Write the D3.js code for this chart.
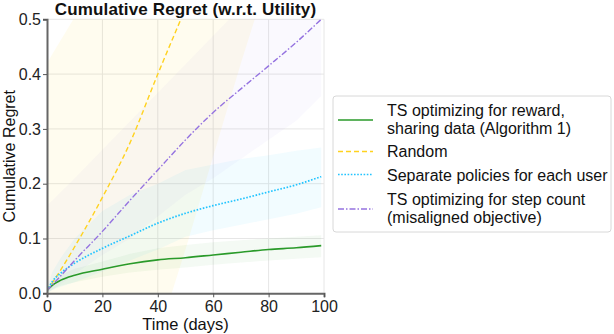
<!DOCTYPE html>
<html>
<head>
<meta charset="utf-8">
<script src="https://cdn.jsdelivr.net/npm/d3@7"></script>
<style>
  body { margin: 0; background: #fff; }
  svg { font-family: "Liberation Sans", Arial, sans-serif; }
</style>
</head>
<body>
<svg class="svg-canvas" width="614" height="334"></svg>
<script>
var days = [0, 2, 5, 10, 20, 30, 40, 50, 60, 70, 80, 90, 99];

// mean cumulative regret per method
var tsReward   = [0.005, 0.015, 0.024, 0.033, 0.044, 0.054, 0.061, 0.065, 0.070, 0.075, 0.080, 0.083, 0.087];
var randomPol  = [0.005, 0.020, 0.043, 0.085, 0.175, 0.275, 0.400, 0.520, 0.640, 0.760, 0.880, 1.000, 1.110];
var separate   = [0.005, 0.022, 0.037, 0.055, 0.082, 0.105, 0.128, 0.146, 0.160, 0.172, 0.185, 0.198, 0.213];
var tsStep     = [0.005, 0.016, 0.032, 0.060, 0.113, 0.170, 0.225, 0.280, 0.330, 0.373, 0.415, 0.458, 0.500];

// shaded bands (lower / upper)
var tsRewardLo = [0.000, 0.008, 0.014, 0.020, 0.030, 0.038, 0.043, 0.047, 0.052, 0.056, 0.060, 0.063, 0.066];
var tsRewardHi = [0.010, 0.022, 0.034, 0.045, 0.058, 0.072, 0.082, 0.088, 0.093, 0.097, 0.100, 0.103, 0.106];
var randomLo   = [-0.75, -0.72, -0.67, -0.58, -0.42, -0.25, -0.08, 0.08, 0.25, 0.42, 0.58, 0.75, 0.90];
var randomHi   = [0.420, 0.437, 0.462, 0.504, 0.588, 0.672, 0.756, 0.840, 0.924, 1.008, 1.092, 1.176, 1.252];
var separateLo = [0.000, 0.006, 0.012, 0.020, 0.040, 0.060, 0.080, 0.103, 0.115, 0.125, 0.135, 0.145, 0.157];
var separateHi = [0.010, 0.040, 0.065, 0.100, 0.150, 0.180, 0.200, 0.225, 0.235, 0.245, 0.252, 0.260, 0.266];
var tsStepLo   = [0.000, 0.006, 0.017, 0.035, 0.070, 0.100, 0.140, 0.180, 0.210, 0.245, 0.280, 0.315, 0.360];
var tsStepHi   = [0.160, 0.170, 0.185, 0.210, 0.262, 0.314, 0.366, 0.418, 0.470, 0.522, 0.574, 0.626, 0.672];

var xTicks = [0, 20, 40, 60, 80, 100];
var yTicks = [0.0, 0.1, 0.2, 0.3, 0.4, 0.5];

var legendLabels = [
  ["TS optimizing for reward,", "sharing data (Algorithm 1)"],
  ["Random"],
  ["Separate policies for each user"],
  ["TS optimizing for step count", "(misaligned objective)"]
];

var series = [
  { mean: tsReward, lo: tsRewardLo, hi: tsRewardHi, color: "#2a9a2a", dash: null, bandAlpha: 0.05, width: 1.6 },
  { mean: randomPol, lo: randomLo, hi: randomHi, color: "#ffd21f", dash: "5,3", bandAlpha: 0.07, width: 1.4 },
  { mean: separate, lo: separateLo, hi: separateHi, color: "#22c4ff", dash: "1.6,1.6", bandAlpha: 0.06, width: 1.7 },
  { mean: tsStep, lo: tsStepLo, hi: tsStepHi, color: "#9573e0", dash: "6,2,1.5,2", bandAlpha: 0.045, width: 1.4 }
];

var svg = d3.select(".svg-canvas");
var plotL = 47, plotR = 324, plotT = 19.3, plotB = 293.3;

var x = d3.scaleLinear().domain([0, 100]).range([plotL, plotR]);
var y = d3.scaleLinear().domain([0, 0.5]).range([plotB, plotT]);

svg.append("defs").append("clipPath").attr("id", "plotclip")
  .append("rect")
  .attr("x", plotL).attr("y", plotT)
  .attr("width", plotR - plotL).attr("height", plotB - plotT);

// grid
var grid = svg.append("g");
grid.selectAll("line.gx").data(xTicks.slice(1)).enter().append("line")
  .attr("x1", function(d) { return x(d); }).attr("x2", function(d) { return x(d); })
  .attr("y1", plotT).attr("y2", plotB)
  .attr("stroke", "#e6e6e6").attr("stroke-width", 1);
grid.selectAll("line.gy").data(yTicks.slice(1)).enter().append("line")
  .attr("x1", plotL).attr("x2", plotR)
  .attr("y1", function(d) { return y(d); }).attr("y2", function(d) { return y(d); })
  .attr("stroke", "#e6e6e6").attr("stroke-width", 1);

var plot = svg.append("g").attr("clip-path", "url(#plotclip)");

var area = d3.area()
  .x(function(d, i) { return x(days[i]); });

series.forEach(function(s) {
  plot.append("path")
    .datum(days)
    .attr("d", area.y0(function(d, i) { return y(s.lo[i]); }).y1(function(d, i) { return y(s.hi[i]); }))
    .attr("fill", s.color)
    .attr("fill-opacity", s.bandAlpha);
});

var line = d3.line()
  .curve(d3.curveMonotoneX)
  .x(function(d, i) { return x(days[i]); });

series.forEach(function(s) {
  plot.append("path")
    .datum(s.mean)
    .attr("d", line.y(function(d) { return y(d); }))
    .attr("fill", "none")
    .attr("stroke", s.color)
    .attr("stroke-width", s.width)
    .attr("stroke-dasharray", s.dash);
});

// axes
var xAxis = svg.append("g")
  .attr("transform", "translate(0," + plotB + ")")
  .call(d3.axisBottom(x).tickValues(xTicks).tickSize(4).tickPadding(3).tickFormat(d3.format("d")));
var yAxis = svg.append("g")
  .attr("transform", "translate(" + plotL + ",0)")
  .call(d3.axisLeft(y).tickValues(yTicks).tickSize(4).tickPadding(2).tickFormat(d3.format(".1f")));

[xAxis, yAxis].forEach(function(a) {
  a.select(".domain").attr("stroke", "#666").attr("stroke-width", 2);
  a.selectAll(".tick line").attr("stroke", "#555").attr("stroke-width", 1);
  a.selectAll(".tick text").attr("fill", "#222").style("font-size", "16px")
    .style("font-family", "Liberation Sans, Arial, sans-serif");
});

svg.append("text")
  .attr("x", (plotL + plotR) / 2).attr("y", 15)
  .attr("text-anchor", "middle")
  .style("font-size", "17px").style("font-weight", "bold")
  .style("letter-spacing", "0.15px")
  .attr("fill", "#111")
  .text("Cumulative Regret (w.r.t. Utility)");

svg.append("text")
  .attr("x", (plotL + plotR) / 2).attr("y", 330)
  .attr("text-anchor", "middle")
  .style("font-size", "16.5px")
  .attr("fill", "#111")
  .text("Time (days)");

svg.append("text")
  .attr("transform", "translate(15," + ((plotT + plotB) / 2) + ") rotate(-90)")
  .attr("text-anchor", "middle")
  .style("font-size", "16px")
  .attr("fill", "#111")
  .text("Cumulative Regret");

// legend
var legend = svg.append("g");
legend.append("rect")
  .attr("x", 333).attr("y", 96).attr("width", 278).attr("height", 136)
  .attr("rx", 3).attr("fill", "#fff").attr("stroke", "#d8d8d8").attr("stroke-width", 1);

var handleY = [120, 151.5, 174.5, 209];
var textY = [[116, 134], [157], [181], [205, 222.5]];

series.forEach(function(s, i) {
  legend.append("line")
    .attr("x1", 338).attr("x2", 373)
    .attr("y1", handleY[i]).attr("y2", handleY[i])
    .attr("stroke", s.color).attr("stroke-width", s.width)
    .attr("stroke-dasharray", s.dash);
  legendLabels[i].forEach(function(t, j) {
    legend.append("text")
      .attr("x", 387).attr("y", textY[i][j])
      .style("font-size", "16px")
      .attr("fill", "#111")
      .text(t);
  });
});
</script>
</body>
</html>
